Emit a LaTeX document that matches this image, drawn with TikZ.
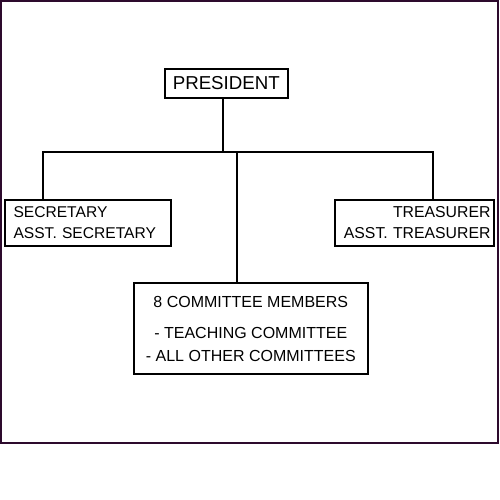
\documentclass[tikz,border=0pt]{standalone}
\usepackage{fontspec}
\setmainfont{Liberation Sans}
\definecolor{framecol}{RGB}{45,10,45}
\begin{document}
\begin{tikzpicture}[x=1pt,y=-1pt,
  box/.style={draw=black,line width=2pt,inner sep=0pt,outer sep=0pt},
  conn/.style={draw=black,line width=2pt}]
\useasboundingbox (0,0) rectangle (500,500);
\draw[framecol,line width=2pt] (1,1) rectangle (498,442.5);
\node[box,minimum width=122.7pt,minimum height=29pt,font=\fontsize{18.7}{22}\selectfont] (pres) at (226.3,83.5) {PRESIDENT};
\node[box,minimum width=166pt,minimum height=46pt,text width=149pt,inner xsep=8.5pt,align=left,font=\fontsize{15.6}{21}\selectfont] (sec) at (88,223) {\mbox{SECRETARY}\\\mbox{ASST. SECRETARY}};
\node[box,minimum width=159pt,minimum height=46pt,text width=152pt,inner xsep=3.5pt,align=right,font=\fontsize{15.8}{21}\selectfont] (tre) at (414.5,223) {TREASURER\\ASST. TREASURER};
\node[box,minimum width=234.3pt,minimum height=90.7pt,align=center,font=\fontsize{16}{23.3}\selectfont] (com) at (250.8,328.7) {8 COMMITTEE MEMBERS\\[7.7pt]- TEACHING COMMITTEE\\- ALL OTHER COMMITTEES};
\coordinate (jt) at (222.7,152);
\coordinate (bl) at (43,152);
\coordinate (br) at (433,152);
\coordinate (bm) at (237,152);
\draw[conn] (pres.south -| jt) -- (jt);
\draw[conn] (bl |- sec.north) -- (bl) -- (br) -- (br |- tre.north);
\draw[conn] (bm) -- (bm |- com.north);
\end{tikzpicture}
\end{document}
